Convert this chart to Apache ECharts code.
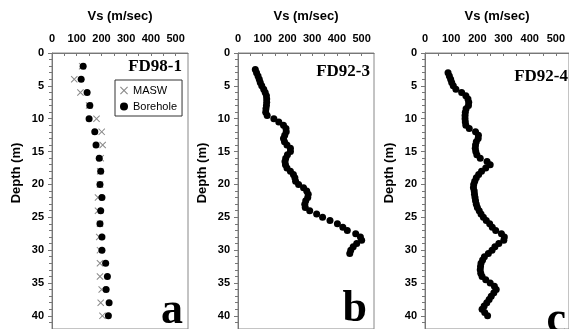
<!DOCTYPE html>
<html>
<head>
<meta charset="utf-8">
<script src="https://cdn.jsdelivr.net/npm/echarts@6/dist/echarts.min.js"></script>
<style>
  html, body { margin: 0; padding: 0; background: #fff; }
  #chart { width: 569px; height: 329px; }
</style>
</head>
<body>
<div id="chart"></div>
<script>
// FD98-1: MASW vs borehole, every 2 m
const depthA = [2, 4, 6, 8, 10, 12, 14, 16, 18, 20, 22, 24, 26, 28, 30, 32, 34, 36, 38, 40];
const boreholeA = [126, 118, 142, 153, 150, 173, 178, 191, 197, 194, 202, 197, 194, 202, 202, 217, 224, 219, 231, 228];
const maswA = [122, 90, 115, 150, 180, 201, 205, 197, 195, 194, 186, 186, 194, 191, 194, 194, 194, 201, 197, 204];

// FD92-3 borehole profile
const depthB = [2.5, 3, 3.5, 4, 4.5, 5, 5.5, 6, 6.5, 7, 7.5, 8, 8.5, 9, 9.5, 10, 10.5, 11, 11.5, 12,
  12.5, 13, 13.5, 14, 14.5, 15, 15.5, 16, 16.5, 17, 17.5, 18, 18.5, 19, 19.5, 20, 20.5, 21, 21.5, 22,
  22.5, 23, 23.5, 24, 24.5, 25, 25.5, 26, 26.5, 27, 27.5, 28, 28.5, 29, 29.5, 30, 30.5];
const vsB = [70, 75, 81, 86, 90, 96, 104, 110, 115, 116, 116, 115, 113, 112, 118, 145, 165, 184, 194, 195,
  189, 184, 188, 198, 212, 212, 200, 193, 190, 192, 198, 212, 224, 230, 233, 245, 265, 278, 284, 282,
  274, 270, 272, 290, 318, 342, 372, 402, 424, 442, 476, 495, 500, 480, 466, 456, 452];

// FD92-4 borehole profile
const depthC = [3, 3.5, 4, 4.5, 5, 5.5, 6, 6.5, 7, 7.5, 8, 8.5, 9, 9.5, 10, 10.5, 11, 11.5, 12, 12.5,
  13, 13.5, 14, 14.5, 15, 15.5, 16, 16.5, 17, 17.5, 18, 18.5, 19, 19.5, 20, 20.5, 21, 21.5, 22, 22.5,
  23, 23.5, 24, 24.5, 25, 25.5, 26, 26.5, 27, 27.5, 28, 28.5, 29, 29.5, 30, 30.5, 31, 31.5, 32, 32.5,
  33, 33.5, 34, 34.5, 35, 35.5, 36, 36.5, 37, 37.5, 38, 38.5, 39, 39.5, 40];
const vsC = [88, 93, 98, 102, 108, 118, 140, 156, 164, 167, 166, 157, 154, 153, 153, 154, 156, 169, 193, 204,
  203, 196, 193, 192, 194, 198, 211, 237, 249, 232, 216, 205, 196, 190, 186, 185, 188, 189, 191, 193,
  196, 200, 207, 214, 223, 234, 247, 257, 270, 292, 303, 301, 282, 267, 256, 242, 227, 220, 214, 212,
  211, 213, 218, 232, 249, 265, 272, 263, 253, 245, 236, 226, 218, 228, 239];

const xTicks = [0, 100, 200, 300, 400, 500];
const depthTicks = [0, 5, 10, 15, 20, 25, 30, 35, 40];
const panelNames = ['FD98-1', 'FD92-3', 'FD92-4'];
const panelLetters = ['a', 'b', 'c'];

const SANS = '"Liberation Sans", Arial, sans-serif';
const SERIF = '"Liberation Serif", "Times New Roman", serif';
const CROSS = 'path://M0,1L1,0L5,4L9,0L10,1L6,5L10,9L9,10L5,6L1,10L0,9L4,5Z';

const pairs = (vs, ds) => vs.map((v, i) => [v, ds[i]]);

const grids = [
  { left: 52, top: 53, width: 136, height: 277 },
  { left: 238, top: 53, width: 136, height: 277 },
  { left: 425, top: 53, width: 148, height: 277 },
];

const xAxes = grids.map((g, i) => ({
  gridIndex: i,
  type: 'value',
  position: 'top',
  min: 0,
  max: 550,
  interval: 50,
  name: 'Vs (m/sec)',
  nameLocation: 'middle',
  nameGap: 30,
  nameTextStyle: { fontFamily: SANS, fontWeight: 'bold', fontSize: 13, color: '#000' },
  axisLine: { show: true, lineStyle: { color: '#777', width: 1 } },
  axisTick: { show: true, inside: true, length: 3, lineStyle: { color: '#777' } },
  axisLabel: {
    margin: 9,
    fontFamily: SANS, fontWeight: 'bold', fontSize: 11, color: '#000',
    showMaxLabel: false,
    formatter: v => (xTicks.includes(v) ? String(v) : ''),
  },
  splitLine: { show: false },
}));

const yAxes = grids.map((g, i) => ({
  gridIndex: i,
  type: 'value',
  inverse: true,
  min: 0,
  max: 42,
  interval: 5,
  name: 'Depth (m)',
  nameLocation: 'middle',
  nameGap: 29,
  nameRotate: 90,
  nameTextStyle: { fontFamily: SANS, fontWeight: 'bold', fontSize: 13, color: '#000', padding: [0, 0, 0, 36] },
  axisLine: { show: true, lineStyle: { color: '#777', width: 1 } },
  axisTick: { show: true, inside: false, length: 4, lineStyle: { color: '#777' } },
  minorTick: { show: true, splitNumber: 5, length: 3, lineStyle: { color: '#777' } },
  axisLabel: {
    margin: 8,
    fontFamily: SANS, fontWeight: 'bold', fontSize: 11, color: '#000',
    showMaxLabel: false,
    formatter: v => (depthTicks.includes(v) ? String(v) : ''),
  },
  splitLine: { show: false },
  minorSplitLine: { show: false },
}));

const labelPos = [
  { nx: 182, ny: 67, lx: 183, ly: 334 },
  { nx: 370, ny: 72, lx: 367, ly: 332 },
  { nx: 568, ny: 77, lx: 566, ly: 343 },
];

const graphics = [];
labelPos.forEach((p, i) => {
  graphics.push({
    type: 'text', x: p.nx, y: p.ny, z: 100,
    style: { text: panelNames[i], font: 'bold 17px ' + SERIF, fill: '#000', align: 'right', verticalAlign: 'middle' },
  });
  graphics.push({
    type: 'text', x: p.lx, y: p.ly, z: 100,
    style: { text: panelLetters[i], font: 'bold 44px ' + SERIF, fill: '#000', align: 'right', verticalAlign: 'bottom' },
  });
});

const chart = echarts.init(document.getElementById('chart'), null, { renderer: 'canvas' });

chart.setOption({
  animation: false,
  backgroundColor: '#fff',
  grid: grids.map(g => Object.assign({ show: true, borderColor: '#888', borderWidth: 1, backgroundColor: 'transparent' }, g)),
  xAxis: xAxes,
  yAxis: yAxes,
  legend: {
    data: ['MASW', 'Borehole'],
    orient: 'vertical',
    left: 115,
    top: 80,
    padding: [5, 5, 4, 5],
    itemGap: 5,
    itemWidth: 8,
    itemHeight: 8,
    borderColor: '#333',
    borderWidth: 1,
    backgroundColor: '#fff',
    textStyle: { fontFamily: SANS, fontSize: 11, color: '#000' },
  },
  graphic: { elements: graphics },
  series: [
    {
      name: 'MASW', type: 'scatter', xAxisIndex: 0, yAxisIndex: 0,
      symbol: CROSS, symbolSize: 7,
      itemStyle: { color: '#8a8a8a', opacity: 1 },
      data: pairs(maswA, depthA),
    },
    {
      name: 'Borehole', type: 'scatter', xAxisIndex: 0, yAxisIndex: 0,
      symbol: 'circle', symbolSize: 7,
      itemStyle: { color: '#000', opacity: 1 },
      data: pairs(boreholeA, depthA),
    },
    {
      name: 'FD92-3', type: 'scatter', xAxisIndex: 1, yAxisIndex: 1,
      symbol: 'circle', symbolSize: 7,
      itemStyle: { color: '#000', opacity: 1 },
      data: pairs(vsB, depthB),
    },
    {
      name: 'FD92-4', type: 'scatter', xAxisIndex: 2, yAxisIndex: 2,
      symbol: 'circle', symbolSize: 7,
      itemStyle: { color: '#000', opacity: 1 },
      data: pairs(vsC, depthC),
    },
  ],
});
</script>
</body>
</html>
